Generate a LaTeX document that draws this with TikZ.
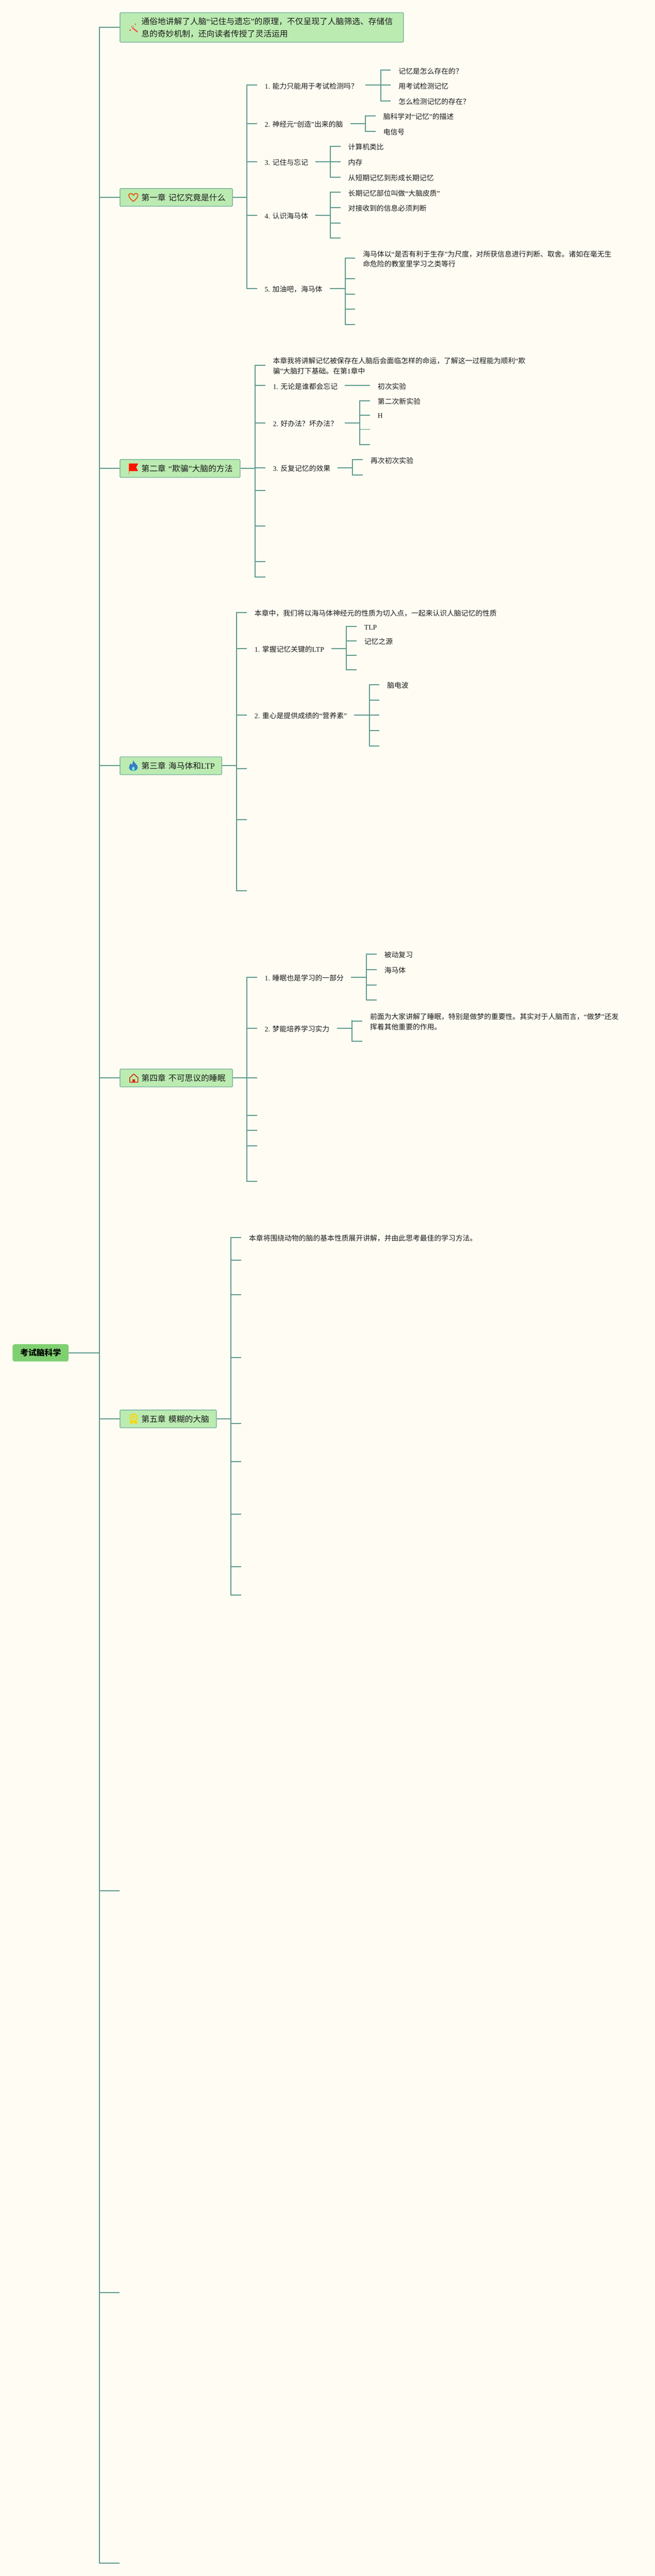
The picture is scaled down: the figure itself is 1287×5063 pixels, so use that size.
\documentclass[tikz,border=0pt]{standalone}
\usepackage{fontspec}
\setmainfont{Noto Sans CJK SC}
\newfontfamily\latf{Liberation Serif}
\definecolor{paper}{HTML}{FFFDF3}
\definecolor{wire}{HTML}{5F9A8C}
\definecolor{boxfill}{HTML}{BBEBB1}
\definecolor{boxline}{HTML}{7FB59F}
\definecolor{rootfill}{HTML}{7FD071}
\definecolor{inkc}{HTML}{1A1A1A}
\newcommand\zq[1]{{\latf “}#1{\latf ”}}
\newcommand\zn[1]{{\latf #1 }}
\newcommand\zl[1]{{\latf #1}}
\tikzset{
  link/.style={draw=wire,line width=2pt},
  lab/.style={anchor=west,inner sep=0pt,text=inkc,align=left,font=\fontsize{14}{20}\selectfont},
  chbox/.style={draw=boxline,fill=boxfill,line width=1.5pt,rounded corners=1.5pt,anchor=west,
    inner sep=0pt,align=left,text=inkc,font=\fontsize{16}{24}\selectfont},
  rootbox/.style={fill=rootfill,rounded corners=4pt,anchor=west,inner sep=0pt,align=center,
    minimum width=110pt,minimum height=34pt,text=black,font=\fontsize{16}{24}\selectfont\bfseries},
}
% name, bus x, y, text
\newcommand\kid[4]{%
  \node[lab] (#1) at ({#2+35},{#3+1.5}) {#4};
  \coordinate (#1s) at (#2,#3);
  \coordinate (#1e) at ({#2+20},#3);
  \draw[link] (#1s) -- (#1e);}
% name, bus x, y
\newcommand\stubline[3]{%
  \coordinate (#1s) at (#2,#3);
  \coordinate (#1e) at ({#2+20},#3);
  \draw[link] (#1s) -- (#1e);}
% name, start point, bus x, parent y, top, bottom
\newcommand\busline[6]{%
  \coordinate (#1j) at (#3,#4);
  \coordinate (#1t) at (#3,#5);
  \coordinate (#1b) at (#3,#6);
  \draw[link] #2 -- (#1j);
  \draw[link,line cap=rect] (#1t) -- (#1b);}
\begin{document}
\begin{tikzpicture}[x=1pt,y=-1pt]
\useasboundingbox (0,0) rectangle (1287,5063);
\fill[paper] (0,0) rectangle (1287,5063);

% trunk
\coordinate (trunkt) at (195,54);
\coordinate (trunkb) at (195,5038);
\draw[link,line cap=rect] (trunkt) -- (trunkb);
\node[rootbox] (root) at (24.6,2659) {考试脑科学};
\draw[link] (root.east) -- (trunkt |- root.east);

% note
\node[chbox,minimum width=557pt,minimum height=58pt,text width=557pt] (note) at (235,54)
 {\hspace*{42pt}通俗地讲解了人脑\zq{记住与遗忘}的原理，不仅呈现了人脑筛选、存储信\\
  \hspace*{42pt}息的奇妙机制，还向读者传授了灵活运用};
\draw[link] (trunkt |- note.west) -- (note.west);

% chapter 1
\node[chbox,minimum width=221pt,minimum height=35pt,text width=221pt] (ch1) at (235,388)
 {\hspace*{42pt}第一章 记忆究竟是什么};
\draw[link] (trunkt |- ch1.west) -- (ch1.west);
\busline{ba}{(ch1.east)}{485}{388}{167.4}{567.2}
\kid{a1}{485}{167.4}{\zn{1.}能力只能用于考试检测吗？}
\kid{a2}{485}{242.8}{\zn{2.}神经元\zq{创造}出来的脑}
\kid{a3}{485}{317.9}{\zn{3.}记住与忘记}
\kid{a4}{485}{422.8}{\zn{4.}认识海马体}
\kid{a5}{485}{567.2}{\zn{5.}加油吧，海马体}
\busline{bb}{(718,167.4)}{748}{167.4}{138}{198}
\kid{a11}{748}{138}{记忆是怎么存在的？}
\kid{a12}{748}{167.4}{用考试检测记忆}
\kid{a13}{748}{198}{怎么检测记忆的存在？}
\busline{bc}{(689,242.8)}{718}{242.8}{228}{258}
\kid{a21}{718}{228}{脑科学对\zq{记忆}的描述}
\kid{a22}{718}{258}{电信号}
\busline{bd}{(620,317.9)}{649}{317.9}{287.5}{348}
\kid{a31}{649}{287.5}{计算机类比}
\kid{a32}{649}{317.9}{内存}
\kid{a33}{649}{348}{从短期记忆到形成长期记忆}
\busline{be}{(620,422.8)}{649}{422.8}{378}{468}
\kid{a41}{649}{378}{长期记忆部位叫做\zq{大脑皮质}}
\kid{a42}{649}{408}{对接收到的信息必须判断}
\stubline{a43}{649}{438}
\stubline{a44}{649}{468}
\busline{bf}{(648,567.2)}{678}{567.2}{507}{638}
\kid{a51}{678}{507.5}{海马体以\zq{是否有利于生存}为尺度，对所获信息进行判断、取舍。诸如在毫无生\\命危险的教室里学习之类等行}
\stubline{a52}{678}{548}
\stubline{a53}{678}{578}
\stubline{a54}{678}{608}
\stubline{a55}{678}{638}

% chapter 2
\node[chbox,minimum width=236pt,minimum height=35pt,text width=236pt] (ch2) at (235,920.7)
 {\hspace*{42pt}第二章 \zq{欺骗}大脑的方法};
\draw[link] (trunkt |- ch2.west) -- (ch2.west);
\busline{ca}{(ch2.east)}{501}{920.7}{718}{1134}
\kid{b0}{501}{718}{本章我将讲解记忆被保存在人脑后会面临怎样的命运，了解这一过程能为顺利{\latf “}欺\\骗{\latf ”}大脑打下基础。在第\zl{1}章中}
\kid{b1}{501}{757.7}{\zn{1.}无论是谁都会忘记}
\kid{b2}{501}{831}{\zn{2.}好办法？坏办法？}
\kid{b3}{501}{919}{\zn{3.}反复记忆的效果}
\stubline{b4}{501}{964}
\stubline{b5}{501}{1034}
\stubline{b6}{501}{1104}
\stubline{b7}{501}{1134}
\coordinate (b1o) at (677,757.7);
\coordinate (b1x) at (727,757.7);
\draw[link] (b1o) -- (b1x);
\node[lab] (b11) at (742,759.2) {初次实验};
\busline{cb}{(677,831)}{707}{831}{788}{873.7}
\kid{b21}{707}{788}{第二次新实验}
\kid{b22}{707}{816}{\zl{H}}
\stubline{b23}{707}{844}
\stubline{b24}{707}{873.7}
\busline{cc}{(663,919)}{693}{919}{903.7}{933.7}
\kid{b31}{693}{903.7}{再次初次实验}
\stubline{b32}{693}{933.7}

% chapter 3
\node[chbox,minimum width=200pt,minimum height=35pt,text width=200pt] (ch3) at (235,1505)
 {\hspace*{42pt}第三章 海马体和\zl{LTP}};
\draw[link] (trunkt |- ch3.west) -- (ch3.west);
\busline{da}{(ch3.east)}{465}{1505}{1204}{1750.9}
\kid{c0}{465}{1204}{本章中，我们将以海马体神经元的性质为切入点，一起来认识人脑记忆的性质}
\kid{c1}{465}{1274.8}{\zn{1.}掌握记忆关键的\zl{LTP}}
\kid{c2}{465}{1405.7}{\zn{2.}重心是提供成绩的\zq{营养素}}
\stubline{c3}{465}{1510.8}
\stubline{c4}{465}{1610.9}
\stubline{c5}{465}{1750.9}
\busline{db}{(651,1274.8)}{680.5}{1274.8}{1231.7}{1315.9}
\kid{c11}{680.5}{1231.7}{\zl{TLP}}
\kid{c12}{680.5}{1259.8}{记忆之源}
\stubline{c13}{680.5}{1287.8}
\stubline{c14}{680.5}{1315.9}
\busline{dc}{(696,1405.7)}{725.6}{1405.7}{1345.6}{1465.8}
\kid{c21}{725.6}{1345.6}{脑电波}
\stubline{c22}{725.6}{1376}
\stubline{c23}{725.6}{1405.7}
\stubline{c24}{725.6}{1435.7}
\stubline{c25}{725.6}{1465.8}

% chapter 4
\node[chbox,minimum width=221pt,minimum height=35pt,text width=221pt] (ch4) at (235,2118.7)
 {\hspace*{42pt}第四章 不可思议的睡眠};
\draw[link] (trunkt |- ch4.west) -- (ch4.west);
\busline{ea}{(ch4.east)}{485}{2118.7}{1920.7}{2322}
\kid{d1}{485}{1920.7}{\zn{1.}睡眠也是学习的一部分}
\kid{d2}{485}{2020.7}{\zn{2.}梦能培养学习实力}
\stubline{d3}{485}{2118.7}
\stubline{d4}{485}{2192}
\stubline{d5}{485}{2221.7}
\stubline{d6}{485}{2252}
\stubline{d7}{485}{2322}
\busline{eb}{(690,1920.7)}{720}{1920.7}{1875.3}{1965.7}
\kid{d11}{720}{1875.3}{被动复习}
\kid{d12}{720}{1905.7}{海马体}
\stubline{d13}{720}{1936}
\stubline{d14}{720}{1965.7}
\busline{ec}{(662.6,2020.7)}{692}{2020.7}{2005.7}{2046}
\kid{d21}{692}{2006.5}{前面为大家讲解了睡眠，特别是做梦的重要性。其实对于人脑而言，\zq{做梦}还发\\挥着其他重要的作用。}
\stubline{d22}{692}{2046}

% chapter 5
\node[chbox,minimum width=189.5pt,minimum height=35pt,text width=189.5pt] (ch5) at (235,2788.8)
 {\hspace*{42pt}第五章 模糊的大脑};
\draw[link] (trunkt |- ch5.west) -- (ch5.west);
\busline{fa}{(ch5.east)}{454}{2788.8}{2432}{3135}
\kid{e0}{454}{2432}{本章将围绕动物的脑的基本性质展开讲解，并由此思考最佳的学习方法。}
\stubline{e1}{454}{2477}
\stubline{e2}{454}{2545}
\stubline{e3}{454}{2668}
\stubline{e4}{454}{2798}
\stubline{e5}{454}{2873}
\stubline{e6}{454}{2976}
\stubline{e7}{454}{3079}
\stubline{e8}{454}{3135}

% bare top-level branches
\coordinate (t6) at (235,3716);
\coordinate (t7) at (235,4506);
\coordinate (t8) at (235,5038);
\draw[link] (trunkt |- t6) -- (t6);
\draw[link] (trunkt |- t7) -- (t7);
\draw[link] (trunkt |- t8) -- (t8);

% icons
\begin{scope}[shift={(262,54)}]
  \draw[color=red!70!pink,line width=2pt,line cap=round] (-2,0.5) -- (8,8.5);
  \fill[red!70!pink] (4,-6.5) circle (1.4pt) (-6.3,5.3) circle (1.6pt) (-3,-2.3) circle (1.2pt) (1,-2) circle (0.9pt);
\end{scope}
\begin{scope}[shift={(262,388)}]
  \draw[color=orange!70!red!90!black,line width=1.7pt,line join=round]
    (0,8) .. controls (-6,3) and (-9,-1) .. (-9,-4) .. controls (-9,-9) and (-2,-9) .. (0,-4)
    .. controls (2,-9) and (9,-9) .. (9,-4) .. controls (9,-1) and (6,3) .. (0,8) -- cycle;
\end{scope}
\begin{scope}[shift={(253.5,911)}]
  \draw[color=orange!80!red,line width=1.2pt] (0,0) -- (0,20.5);
  \fill[red!85!orange] (0,0) -- (18,0) -- (14,7.5) -- (18,15) -- (0,15) -- cycle;
\end{scope}
\begin{scope}[shift={(262,1505)}]
  \fill[cyan!50!blue!85!white]
    (0,-10.5) .. controls (1,-5) and (8.5,-3) .. (8.5,3) .. controls (8.5,8) and (4,10) .. (0,10)
    .. controls (-4,10) and (-8.5,8) .. (-8.5,3) .. controls (-8.5,0) and (-6,-2) .. (-5,-5)
    .. controls (-4,-3) and (-3,-2) .. (-2,-2) .. controls (-1,-5) and (-1.5,-8) .. (0,-10.5) -- cycle;
  \fill[boxfill!70!cyan] (0,9.5) .. controls (-3,9) and (-3.5,5) .. (-1,2) .. controls (-0.5,3) and (0.5,3) .. (1,2) .. controls (3.5,5) and (3,9) .. (0,9.5) -- cycle;
\end{scope}
\begin{scope}[shift={(263,2119)}]
  \draw[color=red!70!orange!85!black,line width=1.5pt,line join=round]
    (-8,8) -- (-8,-1) .. controls (-5,-3) and (-2,-7) .. (0,-8) .. controls (2,-7) and (5,-3) .. (8,-1) -- (8,8) -- cycle;
  \fill[red!70!orange!85!black] (-2.5,8) rectangle (2.5,2);
\end{scope}
\begin{scope}[shift={(262.5,2786)}]
  \fill[yellow!75!orange] (-5,4) -- (-8,12.5) -- (-4,11) -- (-2,13) -- (0,7) -- cycle;
  \fill[yellow!75!orange] (5,4) -- (8,12.5) -- (4,11) -- (2,13) -- (0,7) -- cycle;
  \draw[color=yellow!75!orange,fill=boxfill,line width=2.2pt] (0,0) circle (7pt);
  \draw[color=yellow!75!orange,line width=1.5pt] (0,0) circle (2.8pt);
\end{scope}
\end{tikzpicture}
\end{document}
